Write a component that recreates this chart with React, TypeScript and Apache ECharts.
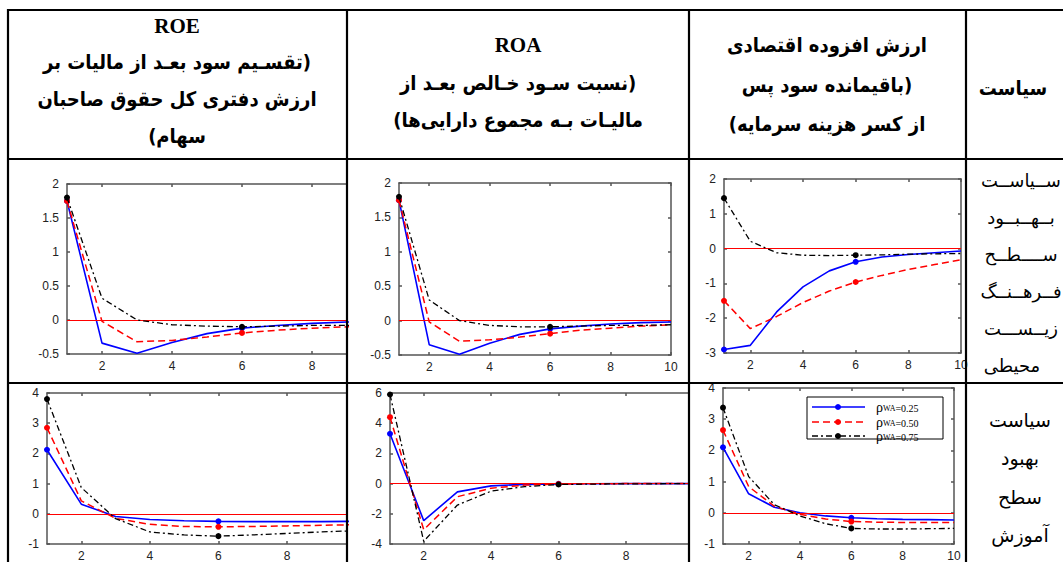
import React, { useEffect, useRef } from "react";
import * as echarts from "echarts";

// ---------- data ----------
const steps = [1, 2, 3, 4, 5, 6, 7, 8, 9, 10];
const xTicks = [2, 4, 6, 8, 10];
const seriesNames = ["ρWA=0.25", "ρWA=0.50", "ρWA=0.75"];

// Row 1: environmental-culture policy
const roeEnvRho25 = [1.75, -0.34, -0.49, -0.33, -0.2, -0.12, -0.08, -0.05, -0.03, -0.02];
const roeEnvRho50 = [1.75, -0.02, -0.32, -0.3, -0.25, -0.19, -0.15, -0.12, -0.1, -0.08];
const roeEnvRho75 = [1.8, 0.32, 0.0, -0.07, -0.09, -0.1, -0.09, -0.08, -0.08, -0.07];

const roaEnvRho25 = [1.75, -0.35, -0.49, -0.33, -0.2, -0.12, -0.08, -0.05, -0.03, -0.02];
const roaEnvRho50 = [1.75, -0.02, -0.3, -0.28, -0.24, -0.19, -0.14, -0.11, -0.08, -0.06];
const roaEnvRho75 = [1.8, 0.3, 0.0, -0.07, -0.09, -0.09, -0.08, -0.07, -0.07, -0.06];

const evaEnvRho25 = [-2.9, -2.78, -1.82, -1.1, -0.64, -0.38, -0.24, -0.17, -0.12, -0.07];
const evaEnvRho50 = [-1.5, -2.3, -1.95, -1.55, -1.22, -0.96, -0.77, -0.6, -0.46, -0.32];
const evaEnvRho75 = [1.45, 0.21, -0.12, -0.19, -0.2, -0.19, -0.18, -0.16, -0.15, -0.14];

// Row 2: education policy
const roeEduRho25 = [2.12, 0.32, -0.09, -0.19, -0.23, -0.25, -0.26, -0.26, -0.26, -0.25];
const roeEduRho50 = [2.85, 0.43, -0.15, -0.35, -0.42, -0.43, -0.42, -0.4, -0.38, -0.36];
const roeEduRho75 = [3.8, 0.87, -0.16, -0.6, -0.7, -0.74, -0.7, -0.65, -0.6, -0.56];

const roaEduRho25 = [3.3, -2.45, -0.55, -0.15, -0.05, -0.02, -0.01, 0, 0, 0];
const roaEduRho50 = [4.4, -3.05, -0.87, -0.3, -0.1, -0.03, -0.01, 0, 0, 0];
const roaEduRho75 = [5.9, -3.82, -1.42, -0.5, -0.2, -0.06, -0.03, -0.02, -0.01, 0];

const evaEduRho25 = [2.1, 0.61, 0.18, 0.0, -0.1, -0.16, -0.19, -0.21, -0.22, -0.23];
const evaEduRho50 = [2.65, 0.84, 0.21, -0.05, -0.2, -0.28, -0.3, -0.31, -0.31, -0.31];
const evaEduRho75 = [3.37, 1.16, 0.26, -0.1, -0.35, -0.5, -0.52, -0.52, -0.51, -0.5];

// ---------- texts ----------
const headerROE = ["ROE", "(تقسـیم سود بعـد از مالیات بر", "ارزش دفتری کل حقوق صاحبان", "سهام)"];
const headerROA = ["ROA", "(نسبت سـود خـالص بعـد از", "مالیـات بـه مجموع دارایی‌ها)"];
const headerEVA = ["ارزش افزوده اقتصادی", "(باقیمانده سود پس", "از کسر هزینه سرمایه)"];
const headerPolicy = "سیاست";
const policyEnv = ["ســیاســت", "بــهــبــود", "ســــطــح", "فــرهــنــگ", "زیــســـت", "محیطی"];
const policyEdu = ["سیاست", "بهبود", "سطح", "آموزش"];

const rtl = (s: string) => "\u200F" + s + "\u200F";

const COLORS = ["#0000ff", "#ff0000", "#000000"];
const DASHES: any[] = ["solid", [7, 4], [6, 3, 2, 3]];
const WIDTHS = [1.6, 1.5, 1.3];
const AXIS = "#555";

type Panel = {
  left: number; top: number; width: number; height: number;
  yMin: number; yMax: number; yInt: number; xMax: number; right: boolean;
  vals: number[][];
};

const panels: Panel[] = [
  { left: 67, top: 184, width: 280, height: 170, yMin: -0.5, yMax: 2, yInt: 0.5, xMax: 9, right: false, vals: [roeEnvRho25, roeEnvRho50, roeEnvRho75] },
  { left: 399, top: 183, width: 272, height: 172, yMin: -0.5, yMax: 2, yInt: 0.5, xMax: 10, right: true, vals: [roaEnvRho25, roaEnvRho50, roaEnvRho75] },
  { left: 724, top: 179, width: 237, height: 174, yMin: -3, yMax: 2, yInt: 1, xMax: 10, right: true, vals: [evaEnvRho25, evaEnvRho50, evaEnvRho75] },
  { left: 47, top: 393, width: 300, height: 154, yMin: -1, yMax: 4, yInt: 1, xMax: 9.75, right: false, vals: [roeEduRho25, roeEduRho50, roeEduRho75] },
  { left: 390, top: 393, width: 298, height: 154, yMin: -4, yMax: 6, yInt: 2, xMax: 9.84, right: false, vals: [roaEduRho25, roaEduRho50, roaEduRho75] },
  { left: 723, top: 388, width: 231, height: 159, yMin: -1, yMax: 4, yInt: 1, xMax: 10, right: true, vals: [evaEduRho25, evaEduRho50, evaEduRho75] },
];

function buildOption() {
  const grid: any[] = [];
  const xAxis: any[] = [];
  const yAxis: any[] = [];
  const series: any[] = [];
  const tickFont = { color: "#222", fontSize: 12, fontFamily: "Liberation Sans, Arial, sans-serif" };

  panels.forEach((p, i) => {
    grid.push({ left: p.left, top: p.top, width: p.width, height: p.height });
    const ticks = xTicks.filter((t) => t <= p.xMax);
    const baseX = {
      type: "value", gridIndex: i, min: 1, max: p.xMax,
      splitLine: { show: false },
      axisLine: { show: true, onZero: false, lineStyle: { color: AXIS, width: 1.5 } },
      axisTick: { show: true, inside: true, length: 3, customValues: ticks, lineStyle: { color: AXIS, width: 1.5 } },
    };
    xAxis.push({ ...baseX, position: "bottom", axisLabel: { show: true, customValues: ticks, margin: 6, ...tickFont } });
    xAxis.push({ ...baseX, position: "top", axisLabel: { show: false } });
    const baseY = {
      type: "value", gridIndex: i, min: p.yMin, max: p.yMax, interval: p.yInt,
      splitLine: { show: false },
    };
    yAxis.push({
      ...baseY, position: "left",
      axisLine: { show: true, onZero: false, lineStyle: { color: AXIS, width: 1.5 } },
      axisTick: { show: true, inside: true, length: 3, lineStyle: { color: AXIS, width: 1.5 } },
      axisLabel: { show: true, margin: 8, ...tickFont },
    });
    yAxis.push({
      ...baseY, position: "right",
      axisLine: { show: p.right, onZero: false, lineStyle: { color: AXIS, width: 1.5 } },
      axisTick: { show: p.right, inside: true, length: 3, lineStyle: { color: AXIS, width: 1.5 } },
      axisLabel: { show: false },
    });
    p.vals.forEach((v, k) => {
      series.push({
        type: "line",
        name: seriesNames[k],
        xAxisIndex: 2 * i,
        yAxisIndex: 2 * i,
        data: steps.map((s, j) => [s, v[j]]),
        symbol: "circle",
        showAllSymbol: true,
        symbolSize: (val: number[]) => (val[0] === 1 || val[0] === 6 ? 6 : 0),
        itemStyle: { color: COLORS[k] },
        lineStyle: { color: COLORS[k], width: WIDTHS[k], type: DASHES[k] },
        clip: true,
        z: 3 + k,
        markLine: k === 2 ? {
          silent: true, symbol: "none", label: { show: false },
          lineStyle: { color: "#ff0000", width: 1, type: "solid" },
          data: [{ yAxis: 0 }],
        } : undefined,
      });
    });
  });

  const graphic: any[] = [];
  const hText = (text: string, x: number, y: number, font: string) =>
    graphic.push({ type: "text", x, y, z: 50, style: { text, font, fill: "#000", align: "center", verticalAlign: "middle" } });

  const boldLatin = "bold 21px 'Liberation Serif', 'Times New Roman', serif";
  const boldFa = "bold 20px 'DejaVu Sans Condensed', 'DejaVu Sans', sans-serif";
  const regFa = "18px 'DejaVu Sans', sans-serif";

  // header texts
  hText(headerROE[0], 177, 26, boldLatin);
  hText(rtl(headerROE[1]), 177, 62, boldFa);
  hText(rtl(headerROE[2]), 177, 99, boldFa);
  hText(rtl(headerROE[3]), 177, 136, boldFa);
  hText(headerROA[0], 518, 45, boldLatin);
  hText(rtl(headerROA[1]), 518, 83, boldFa);
  hText(rtl(headerROA[2]), 518, 120, boldFa);
  hText(rtl(headerEVA[0]), 827, 45, boldFa);
  hText(rtl(headerEVA[1]), 827, 85, boldFa);
  hText(rtl(headerEVA[2]), 827, 124, boldFa);
  hText(rtl(headerPolicy), 1013, 88, boldFa);

  const envY = [180, 217, 254, 291, 328, 365];
  policyEnv.forEach((t, i) => hText(rtl(t), i === 5 ? 1012 : 1021, envY[i], regFa));
  const eduY = [420, 458, 497, 535];
  policyEdu.forEach((t, i) => hText(rtl(t), 1020, eduY[i], "19px 'DejaVu Sans', sans-serif"));

  // table lines
  const ln = (x1: number, y1: number, x2: number, y2: number) =>
    graphic.push({ type: "line", z: 60, shape: { x1, y1, x2, y2 }, style: { stroke: "#000", lineWidth: 2.2 } });
  ln(7, 10, 1063, 10);
  ln(7, 159, 1063, 159);
  ln(7, 383, 1063, 383);
  [8, 347, 689, 966].forEach((x) => ln(x, 9, x, 562));

  // legend box inside last panel
  graphic.push({ type: "rect", z: 40, shape: { x: 807, y: 397, width: 136, height: 42 }, style: { fill: "#fff", stroke: "#000", lineWidth: 1 } });
  const legY = [407, 422, 436];
  legY.forEach((y, k) => {
    graphic.push({ type: "line", z: 41, shape: { x1: 812, y1: y, x2: 865, y2: y }, style: { stroke: COLORS[k], lineWidth: WIDTHS[k], lineDash: k === 0 ? null : DASHES[k] } });
    graphic.push({ type: "circle", z: 42, shape: { cx: 838, cy: y, r: 3 }, style: { fill: COLORS[k] } });
    graphic.push({
      type: "text", z: 42, x: 876, y,
      style: {
        text: "{a|ρ}{b|WA}{c|" + seriesNames[k].slice(3) + "}",
        verticalAlign: "middle", align: "left",
        rich: {
          a: { font: "14px 'Liberation Serif', serif", fill: "#000" },
          b: { font: "8px 'Liberation Serif', serif", fill: "#000", padding: [3, 0, 0, 0] },
          c: { font: "10px 'Liberation Serif', serif", fill: "#000", padding: [2, 0, 0, 0] },
        },
      },
    });
  });

  return { animation: false, backgroundColor: "#fff", grid, xAxis, yAxis, series, graphic };
}

export default function App() {
  const ref = useRef<HTMLDivElement>(null);
  useEffect(() => {
    if (!ref.current) return;
    const chart = echarts.init(ref.current, undefined, { renderer: "svg" });
    chart.setOption(buildOption() as any);
    return () => chart.dispose();
  }, []);
  return (
    <div
      ref={ref}
      style={{ position: "absolute", left: 0, top: 0, width: 1063, height: 562, background: "#fff" }}
    />
  );
}
